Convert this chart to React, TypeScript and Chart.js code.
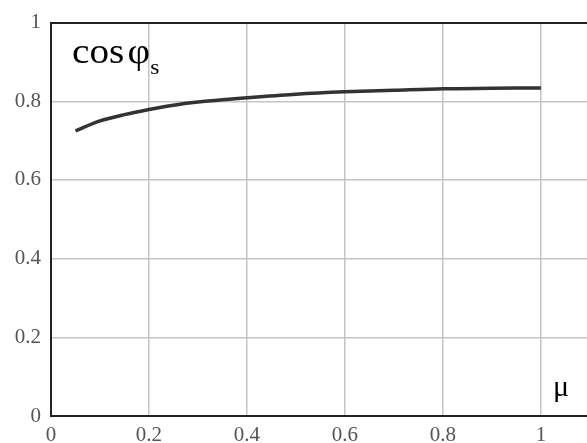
import React, { useEffect, useRef } from "react";
import { Chart, registerables } from "chart.js";

Chart.register(...registerables);

const muValues = [0.05, 0.1, 0.15, 0.2, 0.25, 0.3, 0.35, 0.4, 0.5, 0.6, 0.7, 0.8, 0.9, 1.0];
const cosPhiValues = [0.725, 0.75, 0.766, 0.779, 0.79, 0.798, 0.804, 0.809, 0.818, 0.824, 0.828, 0.832, 0.833, 0.834];
const tickValues = [0, 0.2, 0.4, 0.6, 0.8, 1];

const labelPlugin = {
  id: "labels",
  afterDraw(chart: any) {
    const { ctx } = chart;
    ctx.save();
    ctx.fillStyle = "#000";
    ctx.textBaseline = "alphabetic";
    ctx.textAlign = "left";
    ctx.save();
    ctx.translate(72, 63);
    ctx.scale(1.12, 1);
    ctx.font = '35px "Liberation Serif"';
    ctx.fillText("cos", 0, 0);
    const w = ctx.measureText("cos").width;
    ctx.fillText("φ", w + 3, 0);
    const w2 = ctx.measureText("φ").width;
    ctx.font = '21px "Liberation Serif"';
    ctx.fillText("s", w + 3 + w2, 11);
    ctx.restore();
    ctx.font = '30px "Liberation Serif"';
    ctx.fillText("μ", 553, 396);
    ctx.restore();
  },
};

export default function App() {
  const ref = useRef<HTMLCanvasElement>(null);
  useEffect(() => {
    if (!ref.current) return;
    const data = muValues.map((x, i) => ({ x, y: cosPhiValues[i] }));
    const font = { family: '"Liberation Serif", serif', size: 21 };
    const chart = new Chart(ref.current, {
      type: "line",
      data: {
        datasets: [
          {
            data,
            borderColor: "#333333",
            borderWidth: 3.5,
            pointRadius: 0,
            tension: 0.3,
            fill: false,
          },
        ],
      },
      options: {
        animation: false,
        responsive: false,
        maintainAspectRatio: false,
        layout: { padding: { top: 17, right: 0, left: 0, bottom: 0 } },
        plugins: { legend: { display: false }, tooltip: { enabled: false } },
        scales: {
          x: {
            type: "linear",
            min: 0,
            max: 1.094,
            afterBuildTicks: (scale: any) => {
              scale.ticks = tickValues.map((v) => ({ value: v }));
            },
            afterFit: (scale: any) => {
              scale.height = 27;
            },
            ticks: {
              color: "#555",
              font,
              padding: 7,
              maxRotation: 0,
              callback: (v: any) => String(Math.round(Number(v) * 10) / 10),
            },
            grid: {
              color: (c: any) => (c.tick && c.tick.value === 0 ? "#222" : "#c4c4c4"),
              lineWidth: 1.5,
              drawTicks: false,
            },
            border: { color: "#222", width: 2 },
          },
          y: {
            type: "linear",
            min: 0,
            max: 1,
            afterBuildTicks: (scale: any) => {
              scale.ticks = tickValues.map((v) => ({ value: v }));
            },
            afterFit: (scale: any) => {
              scale.width = 51;
            },
            ticks: {
              color: "#555",
              font,
              padding: 10,
              callback: (v: any) => String(Math.round(Number(v) * 10) / 10),
            },
            grid: {
              color: (c: any) => (c.tick && c.tick.value === 1 ? "#222" : "#c4c4c4"),
              lineWidth: (c: any) => (c.tick && c.tick.value === 1 ? 2 : 1.5),
              drawTicks: false,
            },
            border: { color: "#222", width: 2 },
          },
        },
      },
      plugins: [labelPlugin],
    });
    return () => chart.destroy();
  }, []);
  return (
    <div style={{ position: "absolute", left: 0, top: 0, width: 587, height: 443, background: "#fff" }}>
      <canvas ref={ref} width={587} height={443} style={{ display: "block" }} />
    </div>
  );
}
